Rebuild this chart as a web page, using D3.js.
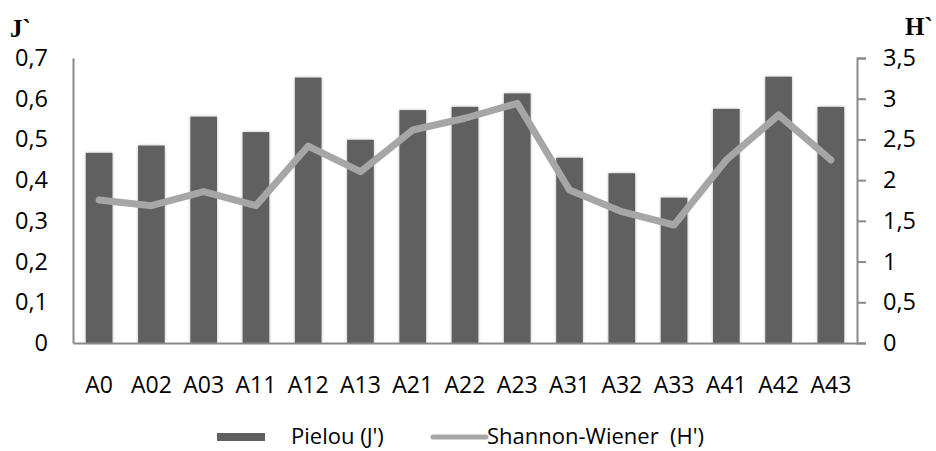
<!DOCTYPE html>
<html><head><meta charset="utf-8">
<script src="https://cdn.jsdelivr.net/npm/d3@7"></script>
<style>body{margin:0;background:#fff}svg{display:block}</style>
</head><body>
<svg id="c" width="936" height="451"></svg>
<script>
const categories = ["A0","A02","A03","A11","A12","A13","A21","A22","A23","A31","A32","A33","A41","A42","A43"];
const pielou = [0.467,0.485,0.556,0.518,0.652,0.499,0.572,0.580,0.613,0.455,0.417,0.357,0.575,0.654,0.580];
const shannon = [1.756,1.686,1.858,1.686,2.419,2.104,2.616,2.76,2.943,1.879,1.613,1.449,2.248,2.8,2.248];
const leftTicks = [0,0.1,0.2,0.3,0.4,0.5,0.6,0.7];
const rightTicks = [0,0.5,1,1.5,2,2.5,3,3.5];
const seriesNames = ["Pielou (J')", "Shannon-Wiener  (H')"];
const axisTitles = ["J`", "H`"];

const svg = d3.select("#c");
const L = 73, R = 857, T = 58, B = 343;
const fmt = v => String(v).replace(".", ",");
const x = d3.scaleBand().domain(categories).range([L, R]).paddingInner(0.49).paddingOuter(0.245);
const yL = d3.scaleLinear().domain([0, 0.7]).range([B, T]);
const yR = d3.scaleLinear().domain([0, 3.5]).range([B, T]);

const defs = svg.append("defs");
const f = defs.append("filter").attr("id","glow").attr("x","-30%").attr("y","-10%").attr("width","160%").attr("height","120%");
f.append("feDropShadow").attr("dx",0).attr("dy",0).attr("stdDeviation",1.6).attr("flood-color","#999").attr("flood-opacity",0.7);

// bars
svg.append("g").selectAll("rect").data(categories).join("rect")
  .attr("x", d => x(d)).attr("width", x.bandwidth())
  .attr("y", (d,i) => yL(pielou[i])).attr("height", (d,i) => B - yL(pielou[i]))
  .attr("fill", "#606060").attr("filter","url(#glow)");

// axes
const ff = "'Open Sans', sans-serif";
const gl = svg.append("g").attr("transform", `translate(${L},0)`)
  .call(d3.axisLeft(yL).tickValues(leftTicks).tickFormat(fmt).tickSize(0).tickPadding(25));
gl.select(".domain").attr("stroke","#898989").attr("stroke-width",2);
gl.selectAll("text").attr("font-family", ff).attr("font-size", 23.5).attr("fill","#000");

const gr = svg.append("g").attr("transform", `translate(${R},0)`)
  .call(d3.axisRight(yR).tickValues(rightTicks).tickFormat(fmt).tickSize(9).tickSizeOuter(9).tickPadding(17));
gr.select(".domain").attr("stroke","#898989").attr("stroke-width",2);
gr.selectAll("line").attr("stroke","#898989").attr("stroke-width",2);
gr.selectAll("text").attr("font-family", ff).attr("font-size", 23.5).attr("fill","#000");

const gb = svg.append("g").attr("transform", `translate(0,${B})`)
  .call(d3.axisBottom(x).tickSize(0).tickPadding(34));
gb.select(".domain").attr("stroke","#898989").attr("stroke-width",2);
gb.selectAll("text").attr("font-family", ff).attr("font-size", 23).attr("fill","#000");

// line
const line = d3.line().x((d,i) => x(categories[i]) + x.bandwidth()/2).y(d => yR(d));
svg.append("path").datum(shannon).attr("d", line)
  .attr("fill","none").attr("stroke","#a6a6a6").attr("stroke-width",7)
  .attr("stroke-linejoin","round").attr("stroke-linecap","round");

// axis titles
svg.append("text").attr("x",10).attr("y",37).text(axisTitles[0])
  .attr("font-family","'Liberation Serif', serif").attr("font-weight","bold").attr("font-size",25);
svg.append("text").attr("x",905).attr("y",35).text(axisTitles[1])
  .attr("font-family","'Liberation Serif', serif").attr("font-weight","bold").attr("font-size",25);

// legend
const lg = svg.append("g");
lg.append("rect").attr("x",217).attr("y",433).attr("width",48).attr("height",8).attr("fill","#606060");
lg.append("text").attr("x",291).attr("y",444).text(seriesNames[0])
  .attr("font-family",ff).attr("font-size",22);
lg.append("line").attr("x1",433).attr("x2",486).attr("y1",437).attr("y2",437)
  .attr("stroke","#a6a6a6").attr("stroke-width",5).attr("stroke-linecap","round");
lg.append("text").attr("x",487).attr("y",444).text(seriesNames[1])
  .attr("font-family",ff).attr("font-size",22).attr("xml:space","preserve").style("white-space","pre");
</script>
</body></html>
